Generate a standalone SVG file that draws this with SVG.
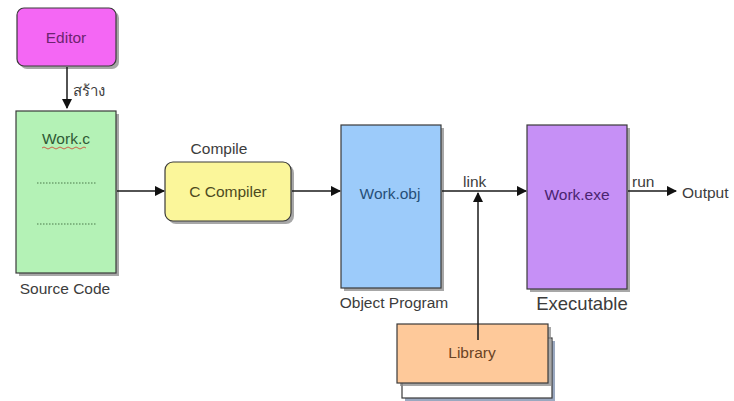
<svg xmlns="http://www.w3.org/2000/svg" width="734" height="401" viewBox="0 0 734 401">
  <style>
    text { font-family: "Liberation Sans", Arial, sans-serif; font-size: 15.5px; }
    .box { stroke: #3a3a3a; stroke-width: 1.2; }
    .shadow { fill: #8a8a8a; opacity: 0.75; }
    .lbl { fill: #3c3c3c; }
    .edge { stroke: #1a1a1a; stroke-width: 1.5; fill: none; }
    .dots { stroke: #4a7a4a; stroke-width: 1; stroke-dasharray: 1.5 1.5; }
  </style>
  <defs>
    <marker id="arrow" viewBox="0 0 10 10" refX="9" refY="5" markerWidth="7" markerHeight="7" orient="auto">
      <path d="M0,0 L10,5 L0,10 z" fill="#111"/>
    </marker>
  </defs>
  <rect width="734" height="401" fill="#ffffff"/>

  <g id="editor">
    <rect x="20" y="11" width="99" height="58" rx="7" class="shadow"/>
    <rect x="17" y="8" width="99" height="58" rx="7" fill="#f467f4" class="box"/>
    <text x="66" y="43" text-anchor="middle" fill="#6d2470">Editor</text>
  </g>

  <g id="source">
    <rect x="19" y="114" width="100" height="162" class="shadow"/>
    <rect x="16" y="111" width="100" height="162" fill="#b4f2b6" class="box"/>
    <text x="66" y="144" text-anchor="middle" fill="#2f5a34">Work.c</text>
    <path d="M42,148 q2,-2 4,0 t4,0 t4,0 t4,0 t4,0 t4,0 t4,0 t4,0 t4,0 t4,0 t4,0" stroke="#d04030" stroke-width="0.8" fill="none"/>
    <line x1="37" y1="183" x2="96" y2="183" class="dots"/>
    <line x1="37" y1="224" x2="96" y2="224" class="dots"/>
    <text x="65" y="294" text-anchor="middle" class="lbl">Source Code</text>
  </g>

  <g id="compiler">
    <rect x="168" y="165" width="126" height="59" rx="8" class="shadow"/>
    <rect x="165" y="162" width="126" height="59" rx="8" fill="#fbf69a" class="box"/>
    <text x="228" y="197" text-anchor="middle" fill="#4d4a1e">C Compiler</text>
    <text x="219" y="154" text-anchor="middle" class="lbl">Compile</text>
  </g>

  <g id="object">
    <rect x="344" y="128" width="100" height="163" class="shadow"/>
    <rect x="341" y="125" width="100" height="163" fill="#9ccbfa" class="box"/>
    <text x="390" y="199" text-anchor="middle" fill="#264f78">Work.obj</text>
    <text x="394" y="308" text-anchor="middle" class="lbl">Object Program</text>
  </g>

  <g id="executable">
    <rect x="530" y="128" width="100" height="164" class="shadow"/>
    <rect x="527" y="125" width="100" height="164" fill="#c690f6" class="box"/>
    <text x="577" y="200" text-anchor="middle" fill="#4a2470">Work.exe</text>
    <text x="582" y="310" text-anchor="middle" class="lbl" style="font-size:18.5px">Executable</text>
  </g>

  <g id="library">
    <rect x="405" y="341" width="150" height="60" fill="#9aa8c0"/>
    <rect x="402" y="338" width="150" height="60" fill="#ffffff" class="box"/>
    <rect x="400" y="327" width="151" height="59" class="shadow"/>
    <rect x="397" y="324" width="151" height="59" fill="#fec99a" class="box"/>
    <text x="472" y="358" text-anchor="middle" fill="#6a4324">Library</text>
  </g>

  <g id="output">
    <text x="682" y="198" class="lbl">Output</text>
  </g>

  <g id="connectors">
    <line x1="67" y1="67" x2="67" y2="108" class="edge" marker-end="url(#arrow)"/>
    <text x="73" y="96" class="lbl" style="font-family:'Noto Sans','DejaVu Sans',sans-serif;font-size:15px">สร้าง</text>
    <line x1="117" y1="191" x2="164" y2="191" class="edge" marker-end="url(#arrow)"/>
    <line x1="292" y1="191" x2="340" y2="191" class="edge" marker-end="url(#arrow)"/>
    <line x1="442" y1="191" x2="526" y2="191" class="edge" marker-end="url(#arrow)"/>
    <text x="463" y="187" class="lbl">link</text>
    <line x1="478" y1="340" x2="478" y2="193" class="edge" marker-end="url(#arrow)"/>
    <line x1="628" y1="191" x2="676" y2="191" class="edge" marker-end="url(#arrow)"/>
    <text x="632" y="187" class="lbl">run</text>
  </g>
</svg>
